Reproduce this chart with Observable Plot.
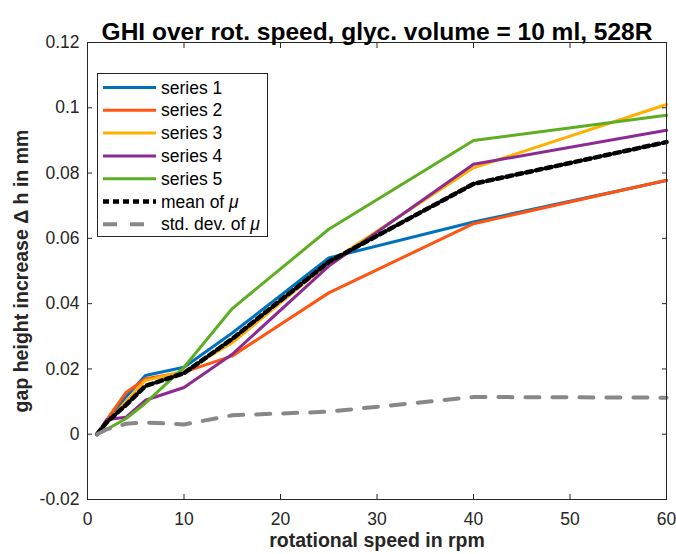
<!DOCTYPE html>
<html>
<head>
<meta charset="utf-8">
<script src="https://cdn.jsdelivr.net/npm/d3@7"></script>
<script src="https://cdn.jsdelivr.net/npm/@observablehq/plot@0.6"></script>
<style>
  html, body { margin: 0; padding: 0; background: #fff; }
  #wrap { position: relative; width: 676px; height: 554px; }
  #legend { position: absolute; left: 97px; top: 73px; }
</style>
</head>
<body>
<div id="wrap"></div>
<script>
const speeds = [1, 2, 4, 6, 10, 15, 25, 40, 60];
const series1 = [0, 0.0040, 0.0115, 0.0180, 0.0205, 0.0310, 0.0540, 0.0650, 0.0777];
const series2 = [0, 0.0045, 0.0128, 0.0170, 0.0190, 0.0240, 0.0433, 0.0645, 0.0778];
const series3 = [0, 0.0035, 0.0100, 0.0165, 0.0192, 0.0280, 0.0525, 0.0816, 0.1010];
const series4 = [0, 0.0045, 0.0052, 0.0104, 0.0143, 0.0245, 0.0515, 0.0827, 0.0931];
const series5 = [0, 0.0015, 0.0048, 0.0095, 0.0205, 0.0385, 0.0628, 0.0900, 0.0977];
const meanMu  = [0, 0.0037, 0.0090, 0.0148, 0.0187, 0.0292, 0.0528, 0.0767, 0.0895];
const stdMu   = [0, 0.0015, 0.0032, 0.0036, 0.0030, 0.0058, 0.0069, 0.0114, 0.0112];

const seriesNames = ["series 1", "series 2", "series 3", "series 4", "series 5"];
const seriesColors = ["#0072BD", "#FF5511", "#FFB000", "#8B2B91", "#5EAE24"];
const xTicks = [0, 10, 20, 30, 40, 50, 60];
const yTicks = [-0.02, 0, 0.02, 0.04, 0.06, 0.08, 0.1, 0.12];

const titleText = "GHI over rot. speed, glyc. volume = 10 ml, 528R";
const xLabel = "rotational speed in rpm";
const yLabel = "gap height increase \u0394 h in mm";

const FONT = "'Liberation Sans', Arial, Helvetica, sans-serif";
const fmt = d => String(+d.toFixed(2));

const allSeries = [series1, series2, series3, series4, series5];
const toRows = (vals) => vals.map((v, j) => ({x: speeds[j], y: v}));

const marks = [];
allSeries.forEach((vals, i) => {
  marks.push(Plot.line(toRows(vals), {x: "x", y: "y", stroke: seriesColors[i], strokeWidth: 3}));
});
marks.push(Plot.line(toRows(meanMu), {x: "x", y: "y", stroke: "#000", strokeWidth: 4.5, strokeDasharray: "6,4"}));
marks.push(Plot.line(toRows(stdMu), {x: "x", y: "y", stroke: "#888", strokeWidth: 4, strokeDasharray: "14,13"}));

const chart = Plot.plot({
  width: 676,
  height: 554,
  marginLeft: 87,
  marginRight: 10,
  marginTop: 42,
  marginBottom: 55,
  x: {domain: [0, 60]},
  y: {domain: [-0.02, 0.12]},
  style: {fontFamily: FONT, fontSize: "17.5px", color: "#262626", background: "#fff"},
  marks: [
    ...marks,
    Plot.frame({stroke: "#262626", strokeWidth: 1}),
    Plot.axisX({ticks: xTicks, anchor: "bottom", tickSize: -5, tickPadding: 18, tickFormat: fmt, label: null, fontSize: 17.5}),
    Plot.axisX({ticks: xTicks, anchor: "top", tickSize: -5, tickFormat: () => "", label: null}),
    Plot.axisY({ticks: yTicks, anchor: "left", tickSize: -5, tickPadding: 13, tickFormat: fmt, label: null, fontSize: 17.5}),
    Plot.axisY({ticks: yTicks, anchor: "right", tickSize: -5, tickFormat: () => "", label: null}),
    Plot.text([titleText], {frameAnchor: "top", textAnchor: "middle", dy: -20, fontWeight: "bold", fontSize: 24.5, fill: "#000"}),
    Plot.text([xLabel], {frameAnchor: "bottom", textAnchor: "middle", dy: 47, fontWeight: "bold", fontSize: 19.5, fill: "#262626"}),
    Plot.text([yLabel], {frameAnchor: "left", textAnchor: "middle", dx: -66, dy: 0, rotate: -90, fontWeight: "bold", fontSize: 19.5, fill: "#262626"})
  ]
});
document.getElementById("wrap").appendChild(chart);

// Legend
const legendItems = seriesNames.map((n, i) => ({label: n, color: seriesColors[i], width: 3, dash: null}))
  .concat([
    {label: "mean of ", mu: true, color: "#000", width: 4.5, dash: "6,4"},
    {label: "std. dev. of ", mu: true, color: "#888", width: 4, dash: "14,13"}
  ]);
const LW = 171, LH = 164, rowH = 22.8, row0 = 14.5;
const leg = d3.select("#wrap").append("svg")
  .attr("id", "legend").attr("width", LW).attr("height", LH);
leg.append("rect").attr("x", 0.5).attr("y", 0.5).attr("width", LW - 1).attr("height", LH - 1)
  .attr("fill", "#fff").attr("stroke", "#262626");
legendItems.forEach((it, i) => {
  const y = row0 + i * rowH;
  leg.append("line").attr("x1", 6).attr("x2", 59).attr("y1", y).attr("y2", y)
    .attr("stroke", it.color).attr("stroke-width", it.width)
    .attr("stroke-dasharray", it.dash);
  const t = leg.append("text").attr("x", 64).attr("y", y).attr("dy", "0.35em")
    .attr("font-family", FONT).attr("font-size", 17.5).attr("fill", "#000")
    .text(it.label);
  if (it.mu) t.append("tspan").attr("font-style", "italic").text("\u03BC");
});
</script>
</body>
</html>
